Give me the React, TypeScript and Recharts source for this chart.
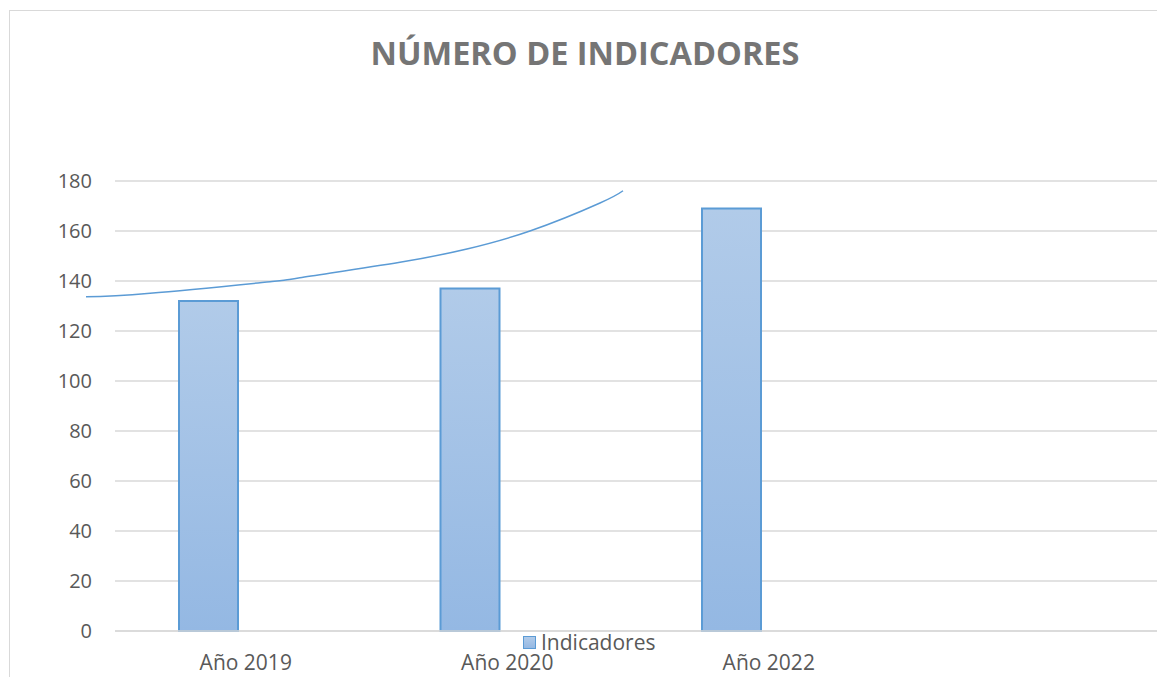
import React from 'react';
import { ComposedChart, LineChart, Line, Bar, XAxis, YAxis, CartesianGrid, Legend } from 'recharts';

const categories = ['Año 2019', 'Año 2020', 'Año 2022', ''];
const indicadores = [132, 137, 169, null];
// Excel had a second, empty series next to each bar, which pushes the bars left
const emptySeries = [null, null, null, null];
const yTicks = [0, 20, 40, 60, 80, 100, 120, 140, 160, 180];

// free-hand curve drawn on the chart (x in category units, y in axis units)
const curveX = [-0.111, 0.134, 0.593, 0.707, 1.09, 1.346, 1.587, 1.855, 1.943];
const curveY = [133.7, 135.1, 139.7, 141.3, 147.5, 152.8, 160, 171.2, 176.1];

const FONT = '"Open Sans", "Noto Sans", sans-serif';
const BLUE = '#5b9bd5';

const data = categories.map((year, i) => ({
  year,
  Indicadores: indicadores[i],
  vacia: emptySeries[i],
}));

const curveData = curveX.map((x, i) => ({ x, y: curveY[i] }));

const LegendContent = ({ payload }: any) => (
  <div style={{ display: 'flex', alignItems: 'center', fontFamily: FONT, fontSize: 21, color: '#595959' }}>
    {(payload || [])
      .filter((entry: any) => entry.type !== 'none' && entry.dataKey !== 'vacia')
      .map((entry: any) => (
        <div key={entry.value} style={{ display: 'flex', alignItems: 'center' }}>
          <span
            style={{
              display: 'inline-block',
              width: 11,
              height: 11,
              border: `1.5px solid ${BLUE}`,
              background: 'linear-gradient(#b1cbe9, #96b9e3)',
              marginRight: 5,
            }}
          />
          <span>{entry.value}</span>
        </div>
      ))}
  </div>
);

export default function App() {
  return (
    <div style={{ position: 'absolute', left: 0, top: 0, width: 1157, height: 677, overflow: 'hidden', background: '#fff', fontFamily: FONT }}>
      <div
        style={{
          position: 'absolute',
          left: 9,
          top: 10,
          width: 1200,
          height: 700,
          border: '1.5px solid #d9d9d9',
        }}
      />
      <div
        style={{
          position: 'absolute',
          left: 0,
          top: 32,
          width: 1170,
          textAlign: 'center',
          fontSize: 32.5,
          fontWeight: 'bold',
          color: '#757575',
          lineHeight: '42px',
        }}
      >
        NÚMERO DE INDICADORES
      </div>
      <div style={{ position: 'absolute', left: 0, top: 0 }}>
        <ComposedChart
          width={1170}
          height={677}
          data={data}
          margin={{ top: 181, right: 9, bottom: 16, left: 0 }}
          barGap={16}
        >
          <defs>
            <linearGradient id="barFill" x1="0" y1="0" x2="0" y2="1">
              <stop offset="0%" stopColor="#b1cbe9" />
              <stop offset="100%" stopColor="#94b8e3" />
            </linearGradient>
          </defs>
          <CartesianGrid vertical={false} stroke="#d9d9d9" strokeWidth={1.5} />
          <XAxis
            dataKey="year"
            height={30}
            interval={0}
            tickLine={false}
            tickSize={0}
            tickMargin={24}
            axisLine={{ stroke: '#d9d9d9', strokeWidth: 1.5 }}
            tick={{ fill: '#595959', fontSize: 21, fontFamily: FONT }}
          />
          <YAxis
            width={115}
            domain={[0, 180]}
            ticks={yTicks}
            interval={0}
            tickLine={false}
            axisLine={false}
            tickSize={0}
            tickMargin={23}
            tick={{ fill: '#595959', fontSize: 20, fontFamily: FONT }}
          />
          <Legend
            verticalAlign="middle"
            align="center"
            layout="horizontal"
            content={<LegendContent />}
            wrapperStyle={{ top: 628, left: 523, width: 'auto' }}
          />
          <Bar
            dataKey="Indicadores"
            name="Indicadores"
            barSize={59}
            fill="url(#barFill)"
            stroke={BLUE}
            strokeWidth={2}
            isAnimationActive={false}
          />
          <Bar dataKey="vacia" barSize={59} legendType="none" fill="none" isAnimationActive={false} />
        </ComposedChart>
      </div>
      <div style={{ position: 'absolute', left: 0, top: 0, pointerEvents: 'none' }}>
        <LineChart
          width={1157}
          height={677}
          data={curveData}
          margin={{ top: 181, right: 534, bottom: 46, left: 86 }}
        >
          <XAxis type="number" dataKey="x" domain={['dataMin', 'dataMax']} hide />
          <YAxis domain={[0, 180]} hide />
          <Line
            type="natural"
            dataKey="y"
            stroke={BLUE}
            strokeWidth={1.5}
            dot={false}
            isAnimationActive={false}
          />
        </LineChart>
      </div>
    </div>
  );
}
